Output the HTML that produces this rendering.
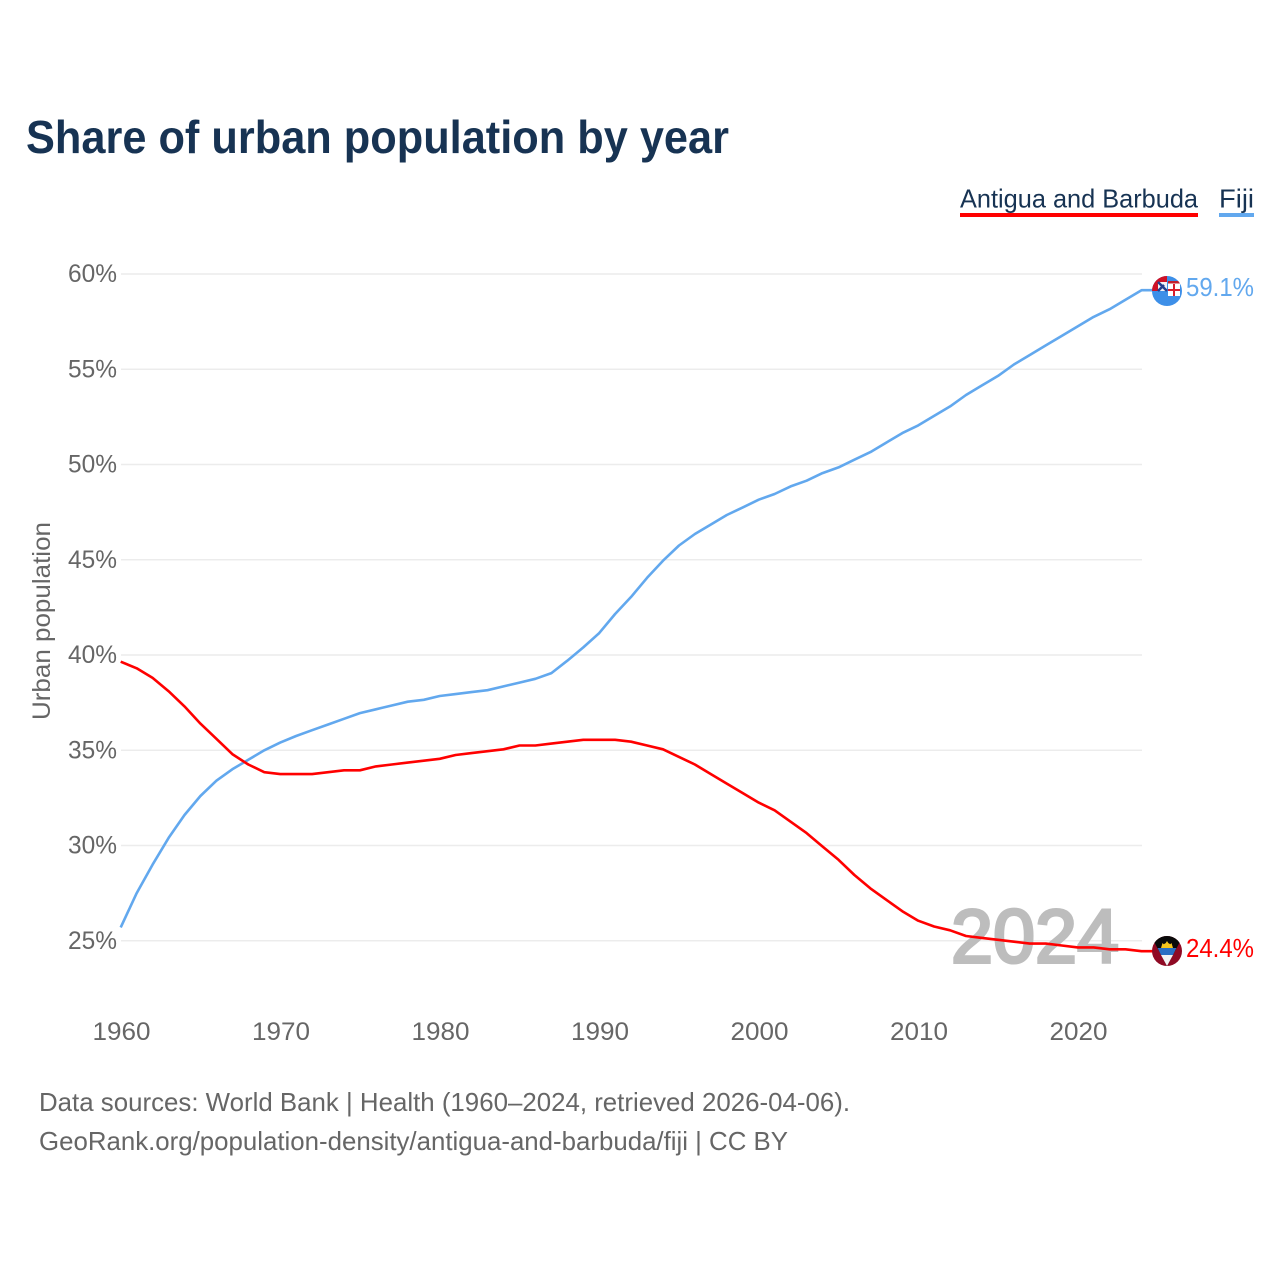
<!DOCTYPE html>
<html lang="en">
<head>
<meta charset="utf-8">
<title>Share of urban population by year</title>
<style>
html,body{margin:0;padding:0;background:#fff;}
svg{display:block;}
text{font-family:"Liberation Sans",sans-serif;}
</style>
</head>
<body>
<svg id="chart" xmlns="http://www.w3.org/2000/svg" width="1280" height="1280" viewBox="0 0 1280 1280">
  <rect width="1280" height="1280" fill="#fff"/>
  <text x="26" y="153" font-size="46" font-weight="700" fill="#173353" textLength="703" lengthAdjust="spacingAndGlyphs">Share of urban population by year</text>

  <g>
    <g>
      <text x="960" y="207.5" font-size="26" fill="#173353" textLength="238" lengthAdjust="spacingAndGlyphs">Antigua and Barbuda</text>
      <rect x="960" y="213" width="238" height="4" fill="#ff0000"/>
    </g>
    <g>
      <text x="1219" y="207.5" font-size="26" fill="#173353" textLength="35" lengthAdjust="spacingAndGlyphs">Fiji</text>
      <rect x="1219" y="213" width="35" height="4" fill="#62a8ee"/>
    </g>
  </g>

  <g id="grid"></g>
  <g id="yticks"></g>
  <g id="xticks"></g>
  <text transform="translate(50,621) rotate(-90)" text-anchor="middle" font-size="25" fill="#666" textLength="198" lengthAdjust="spacingAndGlyphs">Urban population</text>

  <text x="1119" y="962.5" text-anchor="end" font-size="76" font-weight="400" fill="#bdbdbd" stroke="#bdbdbd" stroke-width="3" textLength="168" lengthAdjust="spacingAndGlyphs">2024</text>

  <g id="series"></g>

  <defs>
    <clipPath id="clip-fiji"><circle cx="1167" cy="291" r="15"/></clipPath>
    <clipPath id="clip-antigua"><circle cx="1167" cy="951" r="15"/></clipPath>
  </defs>

  <g clip-path="url(#clip-fiji)">
    <rect x="1152" y="276" width="30" height="30" fill="#3d8fe8"/>
    <rect x="1152" y="276" width="15" height="15" fill="#cf1126"/>
    <rect x="1158" y="282" width="9" height="9" fill="#f2f2f6"/>
    <path d="M1158 282L1167 291M1158 291L1164 285" stroke="#24408f" stroke-width="2.5"/>
    <rect x="1168" y="282" width="12" height="14" fill="#fff"/>
    <rect x="1173" y="284" width="2" height="12" fill="#d81e2c"/>
    <rect x="1168" y="289" width="12" height="2" fill="#d81e2c"/>
    <rect x="1168" y="281" width="12" height="2.5" fill="#c2202e"/>
  </g>

  <g clip-path="url(#clip-antigua)">
    <rect x="1152" y="936" width="30" height="30" fill="#8f0a24"/>
    <path d="M1152 936H1182V938L1167 966L1152 938Z" fill="#0a0a0a"/>
    <path d="M1162 948a5 5 0 0 1 10 0Z" fill="#f6c51c"/>
    <path d="M1161 948L1162.5 943L1164.5 945L1167 941L1169.5 945L1171.5 943L1173 948Z" fill="#f6c51c"/>
    <path d="M1157.6 948H1176.4L1173 955H1161Z" fill="#2a6fc4"/>
    <path d="M1161 955H1173L1167 966Z" fill="#f4f4f4"/>
  </g>

  <text x="1186" y="296" font-size="26" fill="#62a8ee" textLength="68" lengthAdjust="spacingAndGlyphs">59.1%</text>
  <text x="1186" y="957" font-size="26" fill="#ff0000" textLength="68" lengthAdjust="spacingAndGlyphs">24.4%</text>

  <text x="39" y="1111" font-size="26" fill="#666" textLength="811" lengthAdjust="spacingAndGlyphs">Data sources: World Bank | Health (1960–2024, retrieved 2026-04-06).</text>
  <text x="39" y="1150" font-size="26" fill="#666" textLength="749" lengthAdjust="spacingAndGlyphs">GeoRank.org/population-density/antigua-and-barbuda/fiji | CC BY</text>
</svg>
<script>
var startYear = 1960;
var xTickLabels = [1960, 1970, 1980, 1990, 2000, 2010, 2020];
var yTickLabels = [25, 30, 35, 40, 45, 50, 55, 60];
var fijiValues = [25.7,27.5,29.0,30.4,31.6,32.6,33.4,34.0,34.5,35.0,35.4,35.75,36.05,36.35,36.65,36.95,37.15,37.35,37.55,37.65,37.85,37.95,38.05,38.15,38.35,38.55,38.75,39.05,39.7,40.4,41.15,42.15,43.05,44.05,44.95,45.75,46.35,46.85,47.35,47.75,48.15,48.45,48.85,49.15,49.55,49.85,50.25,50.65,51.15,51.65,52.05,52.55,53.05,53.65,54.15,54.65,55.25,55.75,56.25,56.75,57.25,57.75,58.15,58.65,59.15];
var antiguaValues = [39.65,39.3,38.8,38.1,37.3,36.4,35.6,34.8,34.25,33.85,33.75,33.75,33.75,33.85,33.95,33.95,34.15,34.25,34.35,34.45,34.55,34.75,34.85,34.95,35.05,35.25,35.25,35.35,35.45,35.55,35.55,35.55,35.45,35.25,35.05,34.65,34.25,33.75,33.25,32.75,32.25,31.85,31.25,30.65,29.95,29.25,28.45,27.75,27.15,26.55,26.05,25.75,25.55,25.25,25.15,25.05,24.95,24.85,24.85,24.75,24.65,24.65,24.55,24.55,24.45];

var NS = 'http://www.w3.org/2000/svg';
function xScale(year) { return 120.7 + (year - 1960) * 15.95; }
function yScale(v) { return 274 + (60 - v) * 19.05; }

function make(tag, attrs, parent, text) {
  var el = document.createElementNS(NS, tag);
  Object.keys(attrs).forEach(function (k) { el.setAttribute(k, attrs[k]); });
  if (text !== undefined) el.textContent = text;
  parent.appendChild(el);
  return el;
}

var grid = document.getElementById('grid');
var yticks = document.getElementById('yticks');
var xticks = document.getElementById('xticks');
var series = document.getElementById('series');

yTickLabels.forEach(function (v) {
  var line = make('line', {x1: 121, x2: 1142, y1: yScale(v), y2: yScale(v), stroke: '#ececec', 'stroke-width': 1.5}, grid);
  
  
  var label = make('text', {x: 117, y: yScale(v) + 8, 'text-anchor': 'end', 'font-size': 25, fill: '#666', textLength: 49, lengthAdjust: 'spacingAndGlyphs'}, yticks, v + '%');
  
  
});

xTickLabels.forEach(function (y) {
  var label = make('text', {x: xScale(y) + 0.8, y: 1040, 'text-anchor': 'middle', 'font-size': 25, fill: '#666', textLength: 58, lengthAdjust: 'spacingAndGlyphs'}, xticks, String(y));
  
  
});

function drawLine(values, color, name) {
  var pts = values.map(function (v, i) { return xScale(startYear + i).toFixed(1) + ',' + yScale(v).toFixed(1); });
  var lastY = yScale(values[values.length - 1]).toFixed(1);
  pts.push('1153,' + lastY);
  var line = make('polyline', {points: pts.join(' '), fill: 'none', stroke: color, 'stroke-width': 2.6, 'stroke-linejoin': 'round'}, series);
  
  
}
drawLine(fijiValues, '#62a8ee', 'line-fiji');
drawLine(antiguaValues, '#ff0000', 'line-antigua-and-barbuda');
</script>
</body>
</html>
